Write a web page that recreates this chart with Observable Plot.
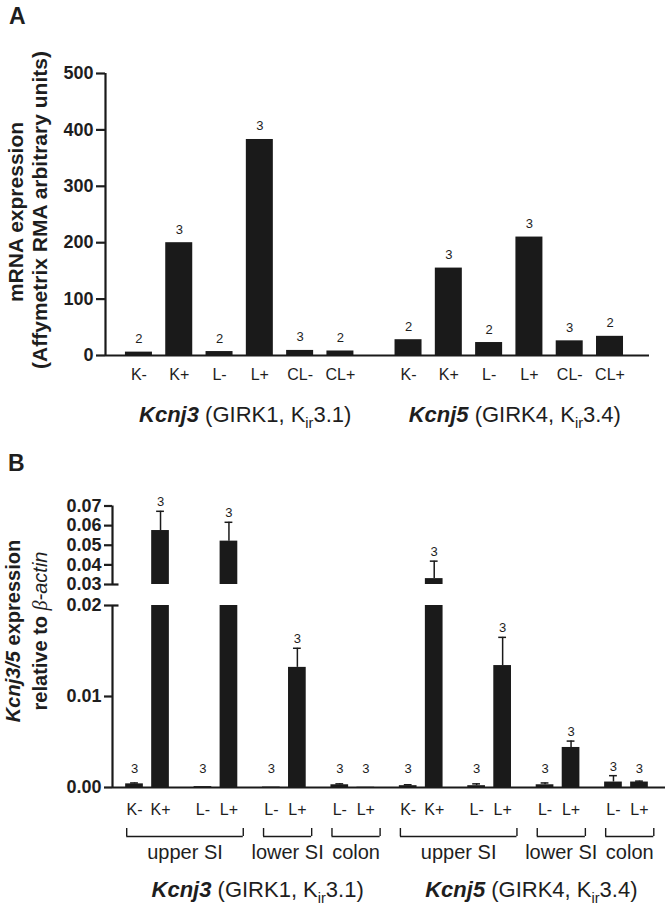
<!DOCTYPE html>
<html><head><meta charset="utf-8">
<script src="https://cdn.jsdelivr.net/npm/d3@7"></script>
<script src="https://cdn.jsdelivr.net/npm/@observablehq/plot@0.6"></script>
<style>
body{margin:0;background:#fff;overflow:hidden;}
#chart{width:669px;}
#chart svg{display:block;}
</style></head><body><div id="chart"></div>
<script>
// ---------- data ----------
const geneNames = ["Kcnj3", "Kcnj5"];
const geneAliases = ["GIRK1", "GIRK4"];
const geneKir = ["3.1", "3.4"];

// Panel A (microarray)
const aConditions = ["K-", "K+", "L-", "L+", "CL-", "CL+"];
const aKcnj3 = [6, 200, 7, 383, 9, 8];
const aKcnj5 = [28, 155, 23, 210, 26, 34];
const aNKcnj3 = [2, 3, 2, 3, 3, 2];
const aNKcnj5 = [2, 3, 2, 3, 3, 2];
const aTicks = [0, 100, 200, 300, 400, 500];

// Panel B (qPCR)
const bRegions = ["upper SI", "upper SI", "upper SI", "upper SI", "lower SI", "lower SI", "colon", "colon"];
const bConditions = ["K-", "K+", "L-", "L+", "L-", "L+", "L-", "L+"];
const bKcnj3 = [0.0004, 0.0575, 0.0001, 0.0521, 0.00005, 0.0132, 0.0003, 0.00003];
const bKcnj3Err = [0.0001, 0.0098, 0, 0.0096, 0, 0.0021, 0.0001, 0];
const bKcnj5 = [0.0002, 0.033, 0.0002, 0.0134, 0.0003, 0.0044, 0.0006, 0.0006];
const bKcnj5Err = [0.0001, 0.0089, 0.0002, 0.0031, 0.0002, 0.0007, 0.0007, 0.0001];
const bN = [3, 3, 3, 3, 3, 3, 3, 3];
const bTicks = [0, 0.01, 0.02, 0.03, 0.04, 0.05, 0.06, 0.07];
const bBreak = [0.02, 0.03];

// ---------- style ----------
const FONT = "'Liberation Sans', Arial, Helvetica, sans-serif";
const INK = "#1a1a1a";
const TXT = "#1e1e1e";
const W = 669;

function geneLabel(sel, x, y, gi, size) {
  const t = sel.append("text").attr("x", x).attr("y", y).attr("text-anchor", "middle")
    .attr("font-size", size).attr("font-family", FONT).attr("fill", TXT);
  t.append("tspan").attr("font-weight", "bold").attr("font-style", "italic").text(geneNames[gi]);
  t.append("tspan").text(" (" + geneAliases[gi] + ", K");
  t.append("tspan").attr("font-size", size * 0.66).attr("dy", size * 0.28).text("ir");
  t.append("tspan").attr("dy", -size * 0.28).text(geneKir[gi] + ")");
}

// ---------- Panel A ----------
const aGap = 0.69;
const aValues = [aKcnj3, aKcnj5], aNs = [aNKcnj3, aNKcnj5];
const rowsA = geneNames.flatMap((g, gi) => aConditions.map((c, i) => ({
  gene: g, gi, cond: c, value: aValues[gi][i], n: aNs[gi][i],
  pos: gi * (aConditions.length + aGap) + i
})));
const hwA = 0.335;
const xDomA = [-0.83, d3.max(rowsA, d => d.pos) + 0.98];
const yMaxA = aTicks[aTicks.length - 1];

const plotA = Plot.plot({
  width: W, height: 432, marginLeft: 105, marginRight: 20, marginTop: 73, marginBottom: 77,
  style: {fontFamily: FONT, color: TXT, background: "white", overflow: "visible"},
  x: {type: "linear", domain: xDomA, axis: null},
  y: {domain: [0, yMaxA], axis: null},
  marks: [
    Plot.rect(rowsA, {x1: d => d.pos - hwA, x2: d => d.pos + hwA, y1: 0, y2: "value", fill: INK}),
    Plot.ruleY([0], {stroke: INK, strokeWidth: 2.2}),
    Plot.ruleX([xDomA[0]], {y1: 0, y2: yMaxA, stroke: INK, strokeWidth: 2.2}),
    Plot.axisY({ticks: aTicks, tickSize: 9, tickPadding: 3, fontSize: 18, fontWeight: "bold", strokeWidth: 2.2, label: null}),
    Plot.text(rowsA, {x: "pos", y: 0, text: "cond", dy: 24, lineAnchor: "bottom", fontSize: 16}),
    Plot.text(rowsA, {x: "pos", y: "value", text: d => String(d.n), dy: -9, lineAnchor: "bottom", fontSize: 13})
  ]
});
document.getElementById("chart").appendChild(plotA);
{
  const s = d3.select(plotA);
  const xs = plotA.scale("x");
  s.append("text").attr("x", 9).attr("y", 24).attr("font-size", 23).attr("font-weight", "bold")
    .attr("font-family", FONT).attr("fill", TXT).attr("text-anchor", "start").text("A");
  s.append("text").attr("transform", "translate(23,212) rotate(-90)").attr("text-anchor", "middle")
    .attr("font-size", 21).attr("font-weight", "bold").attr("font-family", FONT).attr("fill", TXT)
    .text("mRNA expression");
  s.append("text").attr("transform", "translate(47,210) rotate(-90)").attr("text-anchor", "middle")
    .attr("font-size", 21).attr("font-weight", "bold").attr("font-family", FONT).attr("fill", TXT)
    .text("(Affymetrix RMA arbitrary units)");
  geneNames.forEach((g, gi) => {
    const ps = rowsA.filter(d => d.gi === gi).map(d => d.pos);
    const cx = xs.apply((d3.min(ps) + d3.max(ps)) / 2) + 6;
    geneLabel(s, cx, 422, gi, 22);
  });
}

// ---------- Panel B ----------
const pairStep = 2.63;
const bValues = [bKcnj3, bKcnj5], bErrs = [bKcnj3Err, bKcnj5Err];
const rowsB = geneNames.flatMap((g, gi) => bConditions.map((c, i) => ({
  gene: g, gi, region: bRegions[i], cond: c, value: bValues[gi][i], err: bErrs[gi][i], n: bN[i],
  pos: (gi * bConditions.length / 2 + Math.floor(i / 2)) * pairStep + (i % 2)
})));
const hwB = 0.34;
const xDomB = [-0.846, d3.max(rowsB, d => d.pos) + 1.0];
const [brkLo, brkHi] = bBreak;
const yMaxB = bTicks[bTicks.length - 1];
const lowerSeg = rowsB.map(d => ({...d, y1: 0, y2: Math.min(d.value, brkLo)}));
const upperSeg = rowsB.filter(d => d.value > brkHi).map(d => ({...d, y1: brkHi, y2: d.value}));
const errs = rowsB.filter(d => d.err > 0).map(d => ({...d, top: d.value + d.err}));
const brackets = d3.groups(rowsB, d => d.gene, d => d.region).flatMap(([g, regs]) => regs.map(([r, rows]) => {
  const x1 = d3.min(rows, d => d.pos) - 0.3, x2 = d3.max(rows, d => d.pos) + 0.55;
  return {gene: g, region: r, x1, x2, mid: (x1 + x2) / 2};
}));
const bracketEnds = brackets.flatMap(b => [{x: b.x1}, {x: b.x2}]);

const HB = 476;
const plotB = Plot.plot({
  width: W, height: HB, marginLeft: 112, marginRight: 4, marginTop: 73, marginBottom: 121,
  style: {fontFamily: FONT, color: TXT, background: "white", overflow: "visible"},
  x: {type: "linear", domain: xDomB, axis: null},
  y: {type: "linear", domain: [0, brkLo, brkHi, yMaxB], range: [HB - 121, 173, 152, 73.5], axis: null},
  marks: [
    Plot.rect(lowerSeg, {x1: d => d.pos - hwB, x2: d => d.pos + hwB, y1: "y1", y2: "y2", fill: INK}),
    Plot.rect(upperSeg, {x1: d => d.pos - hwB, x2: d => d.pos + hwB, y1: "y1", y2: "y2", fill: INK}),
    Plot.ruleX(errs, {x: "pos", y1: "value", y2: "top", stroke: INK, strokeWidth: 1.5}),
    Plot.ruleY(errs, {y: "top", x1: d => d.pos - 0.15, x2: d => d.pos + 0.15, stroke: INK, strokeWidth: 1.5}),
    Plot.ruleY([0], {stroke: INK, strokeWidth: 2.2}),
    Plot.ruleX([{y1: 0, y2: brkLo}, {y1: brkHi, y2: yMaxB}], {x: () => xDomB[0], y1: "y1", y2: "y2", stroke: INK, strokeWidth: 2.2}),
    Plot.ruleY(bBreak, {x1: xDomB[0], x2: xDomB[0] + 0.25, stroke: INK, strokeWidth: 2.2}),
    Plot.axisY({ticks: bTicks, tickFormat: d3.format(".2f"), tickSize: 8, tickPadding: 3, fontSize: 18, fontWeight: "bold", strokeWidth: 2.2, label: null}),
    Plot.text(rowsB, {x: "pos", y: 0, text: "cond", dy: 27, lineAnchor: "bottom", fontSize: 16}),
    Plot.text(rowsB, {x: "pos", y: d => Math.max(d.value + d.err, 0.001), text: d => String(d.n), dy: -5, lineAnchor: "bottom", fontSize: 13}),
    Plot.ruleY(brackets, {y: 0, x1: "x1", x2: "x2", dy: 49, stroke: INK, strokeWidth: 1.4}),
    Plot.ruleX(bracketEnds, {x: "x", y1: 0, y2: 0, dy: 49, insetBottom: 8, stroke: INK, strokeWidth: 1.4}),
    Plot.text(brackets, {x: "mid", y: 0, text: "region", dy: 71, lineAnchor: "bottom", fontSize: 20})
  ]
});
document.getElementById("chart").appendChild(plotB);
{
  const s = d3.select(plotB);
  const xs = plotB.scale("x");
  s.append("text").attr("x", 8).attr("y", 39).attr("font-size", 23).attr("font-weight", "bold")
    .attr("font-family", FONT).attr("fill", TXT).attr("text-anchor", "start").text("B");
  const t1 = s.append("text").attr("transform", "translate(20,199) rotate(-90)").attr("text-anchor", "middle")
    .attr("font-size", 20).attr("font-weight", "bold").attr("font-family", FONT).attr("fill", TXT);
  t1.append("tspan").attr("font-style", "italic").text("Kcnj3/5");
  t1.append("tspan").text(" expression");
  const t2 = s.append("text").attr("transform", "translate(47,199) rotate(-90)").attr("text-anchor", "middle")
    .attr("font-size", 20).attr("font-family", FONT).attr("fill", TXT);
  t2.append("tspan").attr("font-weight", "bold").text("relative to ");
  t2.append("tspan").attr("font-style", "italic").attr("font-family", "'Liberation Serif', 'DejaVu Serif', serif").text("β");
  t2.append("tspan").attr("font-style", "italic").text("-actin");
  geneNames.forEach((g, gi) => {
    const ps = rowsB.filter(d => d.gi === gi).map(d => d.pos);
    const cx = xs.apply((d3.min(ps) + d3.max(ps)) / 2) + 8;
    geneLabel(s, cx, 465, gi, 22);
  });
}
</script>
</body></html>
